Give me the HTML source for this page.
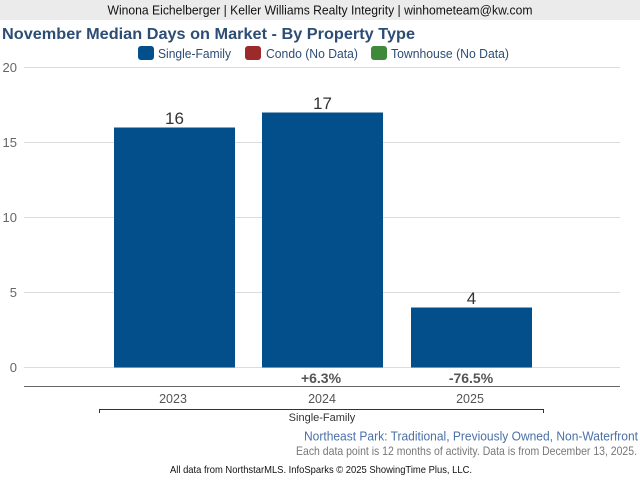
<!DOCTYPE html>
<html><head><meta charset="utf-8"><style>
html,body{margin:0;padding:0;background:#fff;}
svg{display:block;font-family:"Liberation Sans",Arial,sans-serif;}
</style></head><body>
<svg width="640" height="480" viewBox="0 0 640 480" xmlns="http://www.w3.org/2000/svg">
<rect x="0" y="0" width="640" height="480" fill="#fff"/>
<rect x="0" y="0" width="640" height="20" fill="#ebebeb"/>
<text x="320" y="14.5" font-size="13" fill="#111" text-anchor="middle" textLength="425" lengthAdjust="spacingAndGlyphs">Winona Eichelberger | Keller Williams Realty Integrity | winhometeam@kw.com</text>
<text x="2" y="39" font-size="16" font-weight="bold" fill="#2d4d74" textLength="413" lengthAdjust="spacingAndGlyphs">November Median Days on Market - By Property Type</text>
<!-- legend -->
<rect x="138" y="46" width="16" height="14" rx="3" fill="#034f8b"/>
<text x="158" y="58" font-size="13" fill="#2d4d74" textLength="73" lengthAdjust="spacingAndGlyphs">Single-Family</text>
<rect x="245" y="46" width="16" height="14" rx="3" fill="#9c2a2a"/>
<text x="266" y="58" font-size="13" fill="#2d4d74" textLength="92" lengthAdjust="spacingAndGlyphs">Condo (No Data)</text>
<rect x="371" y="46" width="16" height="14" rx="3" fill="#3e8a3a"/>
<text x="391" y="58" font-size="13" fill="#2d4d74" textLength="118" lengthAdjust="spacingAndGlyphs">Townhouse (No Data)</text>
<!-- grid -->
<g stroke="#dcdcdc" stroke-width="1">
<line x1="24" y1="67.5" x2="620" y2="67.5"/>
<line x1="24" y1="142.5" x2="620" y2="142.5"/>
<line x1="24" y1="217.5" x2="620" y2="217.5"/>
<line x1="24" y1="292.5" x2="620" y2="292.5"/>
<line x1="24" y1="367.5" x2="620" y2="367.5"/>
</g>
<g font-size="13" fill="#666" text-anchor="end">
<text x="17" y="72">20</text>
<text x="17" y="147">15</text>
<text x="17" y="222">10</text>
<text x="17" y="297">5</text>
<text x="17" y="372">0</text>
</g>
<!-- bars -->
<rect x="114" y="127.5" width="121" height="240" fill="#034f8b"/>
<rect x="262" y="112.5" width="121" height="255" fill="#034f8b"/>
<rect x="411" y="307.5" width="121" height="60" fill="#034f8b"/>
<g font-size="17" fill="#333" text-anchor="middle">
<text x="174.5" y="124">16</text>
<text x="322.5" y="109">17</text>
<text x="471.5" y="304">4</text>
</g>
<g font-size="14" font-weight="bold" fill="#555" text-anchor="middle">
<text x="321" y="383">+6.3%</text>
<text x="471" y="383">-76.5%</text>
</g>
<line x1="24" y1="386.5" x2="620" y2="386.5" stroke="#666" stroke-width="1"/>
<g font-size="12.5" fill="#555" text-anchor="middle">
<text x="173" y="403">2023</text>
<text x="322" y="403">2024</text>
<text x="470" y="403">2025</text>
</g>
<path d="M99.5 413 V409.5 H543.5 V413" fill="none" stroke="#333" stroke-width="1"/>
<text x="322" y="421" font-size="11" fill="#333" text-anchor="middle">Single-Family</text>
<text x="638" y="440.5" font-size="13" fill="#4a70a6" text-anchor="end" textLength="334" lengthAdjust="spacingAndGlyphs">Northeast Park: Traditional, Previously Owned, Non-Waterfront</text>
<text x="637" y="455" font-size="12" fill="#777" text-anchor="end" textLength="341" lengthAdjust="spacingAndGlyphs">Each data point is 12 months of activity. Data is from December 13, 2025.</text>
<text x="321" y="473" font-size="10.5" fill="#111" text-anchor="middle" textLength="302" lengthAdjust="spacingAndGlyphs">All data from NorthstarMLS. InfoSparks © 2025 ShowingTime Plus, LLC.</text>
</svg>
</body></html>
